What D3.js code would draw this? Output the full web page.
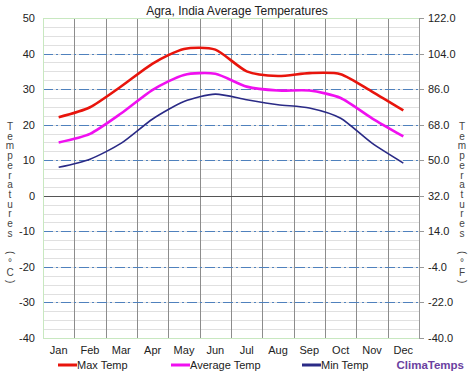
<!DOCTYPE html>
<html>
<head>
<meta charset="utf-8">
<script src="https://cdn.jsdelivr.net/npm/d3@7"></script>
<style>
  body { margin: 0; background: #fff; }
  text { font-family: "Liberation Sans", Arial, sans-serif; }
</style>
</head>
<body>
<div id="chart"></div>
<script>
var months = ["Jan", "Feb", "Mar", "Apr", "May", "Jun", "Jul", "Aug", "Sep", "Oct", "Nov", "Dec"];
var maxTemp = [22.1, 24.9, 30.8, 37.2, 41.3, 41.1, 35.0, 33.7, 34.5, 34.2, 29.3, 24.0];
var avgTemp = [15.0, 17.4, 23.2, 29.8, 34.0, 34.3, 30.7, 29.6, 29.6, 27.5, 21.8, 16.7];
var minTemp = [8.0, 10.3, 14.8, 21.6, 26.5, 28.6, 27.0, 25.6, 24.7, 21.8, 14.8, 9.2];
var cTicks = [50, 40, 30, 20, 10, 0, -10, -20, -30, -40];
var fTicks = [122, 104, 86, 68, 50, 32, 14, -4, -22, -40];

function init() {
    const w = 474;
    const h = 375;
    var left = 43, right = 419, top = 18, bottom = 338;

    var svg = d3.select("#chart")
        .append("svg")
        .attr("width", w)
        .attr("height", h);

    var x = d3.scaleBand().domain(months).range([left, right]);
    var y = d3.scaleLinear().domain([-40, 50]).range([bottom, top]);
    var yF = d3.scaleLinear().domain([-40, 122]).range([bottom, top]);

    // minor grid every 2.5 degrees
    svg.append("g").selectAll("line")
        .data(d3.range(-40, 50.1, 2.5))
        .enter().append("line")
        .attr("x1", left).attr("x2", right)
        .attr("y1", d => Math.round(y(d)) + 0.5).attr("y2", d => Math.round(y(d)) + 0.5)
        .attr("stroke", "#e0e0e0");

    // month separators
    svg.append("g").selectAll("line")
        .data(months.slice(1))
        .enter().append("line")
        .attr("x1", d => Math.round(x(d)) + 0.5).attr("x2", d => Math.round(x(d)) + 0.5)
        .attr("y1", top).attr("y2", bottom)
        .attr("stroke", "#8c8c8c");

    // major dash-dot lines
    svg.append("g").selectAll("line")
        .data(cTicks.filter(d => d != 0 && d != 50 && d != -40))
        .enter().append("line")
        .attr("x1", left).attr("x2", right)
        .attr("y1", d => Math.round(y(d)) + 0.5).attr("y2", d => Math.round(y(d)) + 0.5)
        .attr("stroke", "#4f81bd")
        .attr("stroke-width", 1.2)
        .attr("stroke-dasharray", "10,3,2,3");

    // zero line
    svg.append("line")
        .attr("x1", left).attr("x2", right)
        .attr("y1", Math.round(y(0)) + 0.5).attr("y2", Math.round(y(0)) + 0.5)
        .attr("stroke", "#555");

    // border
    svg.append("rect")
        .attr("x", left + 0.5).attr("y", top + 0.5)
        .attr("width", right - left).attr("height", bottom - top)
        .attr("fill", "none").attr("stroke", "#c8e8c0");
    svg.append("line")
        .attr("x1", right + 0.5).attr("x2", right + 0.5)
        .attr("y1", top).attr("y2", bottom)
        .attr("stroke", "#999");

    // left axis labels
    svg.append("g").selectAll("text")
        .data(cTicks)
        .enter().append("text")
        .attr("x", 35).attr("y", d => y(d) + 4)
        .attr("text-anchor", "end")
        .attr("font-size", 11)
        .attr("fill", "#222")
        .text(d => d);

    // right axis ticks & labels
    svg.append("g").selectAll("line")
        .data(fTicks)
        .enter().append("line")
        .attr("x1", right).attr("x2", right + 5)
        .attr("y1", d => Math.round(yF(d)) + 0.5).attr("y2", d => Math.round(yF(d)) + 0.5)
        .attr("stroke", "#999");
    svg.append("g").selectAll("text")
        .data(fTicks)
        .enter().append("text")
        .attr("x", 428).attr("y", d => yF(d) + 4)
        .attr("font-size", 11)
        .attr("fill", "#222")
        .text(d => d.toFixed(1));

    // month labels
    svg.append("g").selectAll("text")
        .data(months)
        .enter().append("text")
        .attr("x", d => x(d) + x.bandwidth() / 2)
        .attr("y", 354)
        .attr("text-anchor", "middle")
        .attr("font-size", 11)
        .attr("fill", "#222")
        .text(d => d);

    // title
    svg.append("text")
        .attr("x", 237).attr("y", 15)
        .attr("text-anchor", "middle")
        .attr("font-size", 12)
        .attr("fill", "#222")
        .text("Agra, India Average Temperatures");

    // vertical axis titles, letter by letter
    function vLabel(str, cx) {
        var chars = str.split("");
        var g = svg.append("g").attr("font-size", 10).attr("fill", "#444");
        chars.forEach(function (c, i) {
            var cy = 130 + i * 9.7;
            var t = g.append("text")
                .attr("x", cx).attr("y", cy)
                .attr("text-anchor", "middle")
                .text(c);
            if (c == "(" || c == ")") {
                t.attr("transform", "rotate(90," + cx + "," + (cy - 3.5) + ")");
            }
        });
    }
    vLabel("Temperatures (°C)", 10);
    vLabel("Temperatures (°F)", 462);

    // lines
    var line = d3.line()
        .x((d, i) => x(months[i]) + x.bandwidth() / 2)
        .y(d => y(d))
        .curve(d3.curveCardinal.tension(0.3));

    var series = [
        { name: "Max Temp", values: maxTemp, color: "#e8140c", width: 2.6 },
        { name: "Average Temp", values: avgTemp, color: "#f010f0", width: 2.6 },
        { name: "Min Temp", values: minTemp, color: "#2a2a86", width: 1.6 }
    ];

    svg.append("g").selectAll("path")
        .data(series)
        .enter().append("path")
        .attr("d", d => line(d.values))
        .attr("fill", "none")
        .attr("stroke", d => d.color)
        .attr("stroke-width", d => d.width);

    // legend
    var legendX = [58, 171, 302];
    var lg = svg.append("g").selectAll("g")
        .data(series)
        .enter().append("g")
        .attr("transform", (d, i) => "translate(" + legendX[i] + ",365)");
    lg.append("line")
        .attr("x1", 0).attr("x2", 19)
        .attr("y1", 0).attr("y2", 0)
        .attr("stroke", d => d.color)
        .attr("stroke-width", 3);
    lg.append("text")
        .attr("x", 19).attr("y", 4)
        .attr("font-size", 11)
        .attr("fill", "#222")
        .text(d => d.name);

    svg.append("text")
        .attr("x", 464).attr("y", 369)
        .attr("text-anchor", "end")
        .attr("font-size", 11.5)
        .attr("font-weight", "bold")
        .attr("fill", "#6b3fa0")
        .text("ClimaTemps");
}
window.onload = init;
</script>
</body>
</html>
